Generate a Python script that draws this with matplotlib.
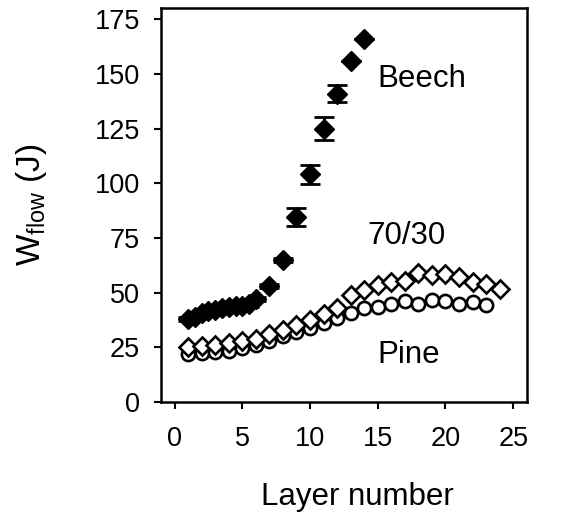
import matplotlib
matplotlib.use("Agg")
import matplotlib.pyplot as plt

plt.rcParams['font.family'] = ['Liberation Sans', 'DejaVu Sans']
plt.rcParams['mathtext.fontset'] = 'custom'
plt.rcParams['mathtext.rm'] = 'Liberation Sans'
plt.rcParams['mathtext.it'] = 'Liberation Sans'

# Beech (filled diamonds)
beech_x = [1, 1.5, 2, 2.5, 3, 3.5, 4, 4.5, 5, 5.5, 6, 7, 8, 9, 10, 11, 12, 13, 14]
beech_y = [38, 39, 40.5, 41.5, 42, 43, 43.5, 44, 44, 45, 47, 53, 65, 84.5, 104, 125, 141, 156, 166]
beech_err = [1, 1, 1, 1, 1, 1, 1, 1, 1.5, 1.5, 1, 1, 1, 4.2, 4.5, 5.3, 3.8, 0, 0]

# 70/30 (open diamonds)
mix_x = list(range(1, 25))
mix_y = [25, 25.5, 26, 27, 28, 29, 31, 33, 35, 37.5, 40, 43, 49, 51, 53.5, 55, 55.5, 59, 58, 58.5, 57, 55, 54, 51.5]

# Pine (open circles)
pine_x = list(range(1, 24))
pine_y = [22, 22.5, 23, 23.5, 24.5, 26, 28, 30, 32, 34, 36, 38.5, 40.5, 43, 43.5, 45, 46, 45, 46.5, 46, 45, 45.5, 44.5]

xticks = [0, 5, 10, 15, 20, 25]
yticks = [0, 25, 50, 75, 100, 125, 150, 175]

fig = plt.figure(figsize=(5.61, 5.16), dpi=100)
ax = fig.add_axes([0.287, 0.221, 0.652, 0.763])

ax.plot(pine_x, pine_y, linestyle='none', marker='o', ms=9.5, mfc='white',
        mec='black', mew=1.9, zorder=3)
ax.plot(mix_x, mix_y, linestyle='none', marker='D', ms=9.5, mfc='white',
        mec='black', mew=1.9, zorder=4)
ax.errorbar(beech_x, beech_y, yerr=beech_err, fmt='D', ms=10, mfc='black',
            mec='black', ecolor='black', elinewidth=2, capsize=7, capthick=2,
            zorder=5)

fs_txt = 22.5
ax.text(15.0, 147.5, 'Beech', fontsize=fs_txt, ha='left', va='center')
ax.text(17.15, 76, '70/30', fontsize=fs_txt, ha='center', va='center')
ax.text(17.3, 21.5, 'Pine', fontsize=fs_txt, ha='center', va='center')

ax.set_xlim(-1, 26)
ax.set_ylim(0, 180)
ax.set_xticks(xticks)
ax.set_yticks(yticks)
ax.tick_params(labelsize=19.5, width=1.5, length=5, direction='out',
               top=False, right=False)
ax.tick_params(axis='y', pad=10)
ax.tick_params(axis='x', pad=12)
for s in ax.spines.values():
    s.set_linewidth(1.8)

ax.set_xlabel('Layer number', fontsize=22.5, va='center')
ax.xaxis.set_label_coords(0.537, -0.241)
ax.set_ylabel(r'$\mathrm{W_{flow}}$ (J)', fontsize=24, va='center')
ax.yaxis.set_label_coords(-0.355, 0.5)

fig.savefig('out.png', dpi=100)
